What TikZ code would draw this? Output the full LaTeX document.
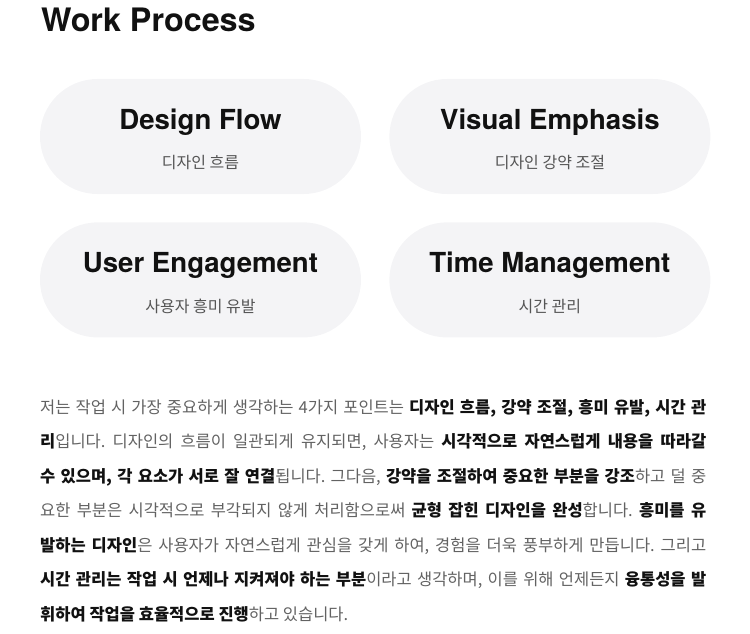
\documentclass[tikz,border=0pt]{standalone}
\usepackage{fontspec}
\setmainfont{Noto Sans CJK KR}
\newfontfamily\latinfont{TeX Gyre Heros}
\usetikzlibrary{positioning}
\definecolor{cardgray}{HTML}{F4F4F6}
\definecolor{subgray}{HTML}{555555}
\definecolor{textgray}{HTML}{626262}
\definecolor{ink}{HTML}{111111}
\newcommand{\kw}[1]{\textcolor{ink}{\bfseries #1}}
\frenchspacing

\begin{document}
\begin{tikzpicture}[x=1pt, y=-1pt, node distance=28pt, card/.style={rectangle, fill=cardgray, rounded corners=57.5pt, minimum width=321pt, minimum height=115pt, inner sep=0pt}, cardtitle/.style={anchor=base, inner sep=0pt, text=ink, font=\latinfont\bfseries\fontsize{27.6}{32}\selectfont}, cardsub/.style={inner sep=0pt, text=subgray, font=\fontsize{16}{19}\selectfont}]

	\useasboundingbox (0,0) rectangle (750,634);

	\node [anchor=base west, inner sep=0pt, text=ink, font=\latinfont\bfseries\fontsize{32.3}{38}\selectfont] (WP) at (41,32) {Work Process};

	\node [card] (DF) at (200.5,136.5) {};
	\node [card] (VE) [right=of DF] {};
	\node [card] (UE) [below=of DF] {};
	\node [card] (TM) [right=of UE] {};

	\node [cardtitle] (DFt) at ([yshift=7.5pt]DF.center) {Design Flow};
	\node [cardsub] (DFs) at ([yshift=-26.5pt]DF.center) {디자인 흐름};
	\node [cardtitle] (VEt) at ([yshift=7.5pt]VE.center) {Visual Emphasis};
	\node [cardsub] (VEs) at ([yshift=-26.5pt]VE.center) {디자인 강약 조절};
	\node [cardtitle] (UEt) at ([yshift=7.5pt]UE.center) {User Engagement};
	\node [cardsub] (UEs) at ([yshift=-26.5pt]UE.center) {사용자 흥미 유발};
	\node [cardtitle] (TMt) at ([yshift=7.5pt]TM.center) {Time Management};
	\node [cardsub] (TMs) at ([yshift=-26.5pt]TM.center) {시간 관리};

	\node [anchor=north west, inner sep=0pt, text width=666pt, align=justify, text=textgray, font=\fontsize{16.5}{34.5}\selectfont] (TX) at (40,399)
	{저는 작업 시 가장 중요하게 생각하는 4가지 포인트는 \kw{디자인 흐름, 강약 조절, 흥미 유발, 시간 관\linebreak 리}입니다. 디자인의 흐름이 일관되게 유지되면, 사용자는 \kw{시각적으로 자연스럽게 내용을 따라갈\linebreak 수 있으며, 각 요소가 서로 잘 연결}됩니다. 그다음, \kw{강약을 조절하여 중요한 부분을 강조}하고 덜 중\linebreak 요한 부분은 시각적으로 부각되지 않게 처리함으로써 \kw{균형 잡힌 디자인을 완성}합니다. \kw{흥미를 유\linebreak 발하는 디자인}은 사용자가 자연스럽게 관심을 갖게 하여, 경험을 더욱 풍부하게 만듭니다. 그리고\linebreak \kw{시간 관리는 작업 시 언제나 지켜져야 하는 부분}이라고 생각하며, 이를 위해 언제든지 \kw{융통성을 발\linebreak 휘하여 작업을 효율적으로 진행}하고 있습니다.};

\end{tikzpicture}
\end{document}
